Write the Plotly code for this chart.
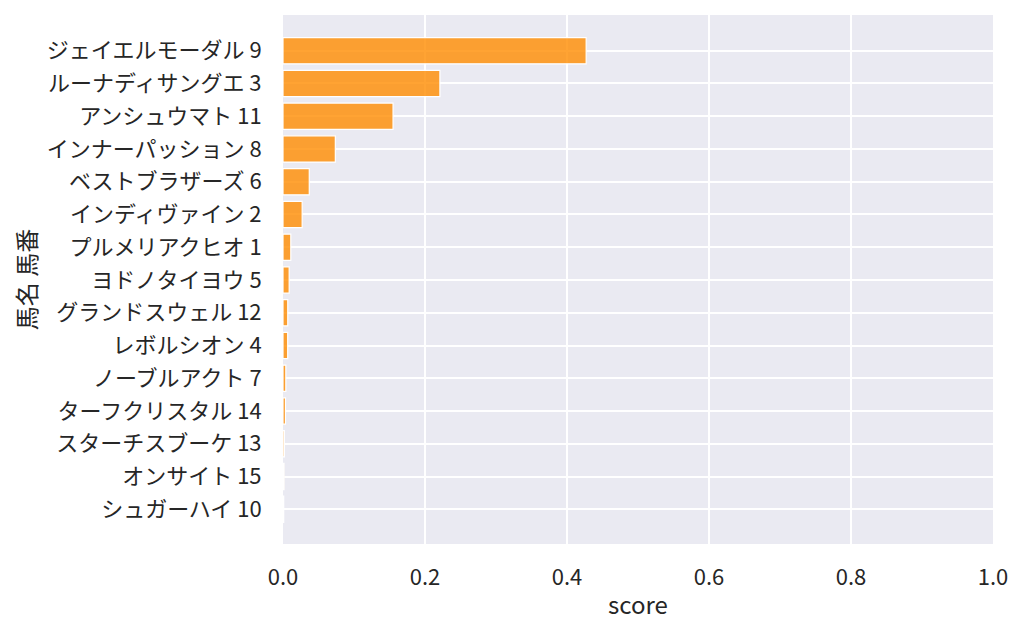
import plotly.graph_objects as go

# horse name + number, ordered by score (top to bottom)
horses = [
    "ジェイエルモーダル 9",
    "ルーナディサングエ 3",
    "アンシュウマト 11",
    "インナーパッション 8",
    "ベストブラザーズ 6",
    "インディヴァイン 2",
    "プルメリアクヒオ 1",
    "ヨドノタイヨウ 5",
    "グランドスウェル 12",
    "レボルシオン 4",
    "ノーブルアクト 7",
    "ターフクリスタル 14",
    "スターチスブーケ 13",
    "オンサイト 15",
    "シュガーハイ 10",
]
scores = [0.427, 0.221, 0.155, 0.0737, 0.037, 0.027, 0.011, 0.0087,
          0.0067, 0.0066, 0.004, 0.0035, 0.002, 0.0015, 0.001]

x_ticks = [0.0, 0.2, 0.4, 0.6, 0.8, 1.0]

FONT = "Noto Sans CJK JP"

fig = go.Figure()
fig.add_trace(go.Bar(
    x=scores,
    y=horses,
    orientation="h",
    width=0.8,
    marker=dict(color="rgba(255,140,0,0.8)", line=dict(color="white", width=1.2)),
))

# page body adds 8px offset, margins compensate for it
fig.update_layout(
    width=1024,
    height=634,
    margin=dict(l=275, r=39, t=7, b=98),
    paper_bgcolor="white",
    plot_bgcolor="#EAEAF2",
    font=dict(family=FONT, size=22, color="#262626"),
    showlegend=False,
)
fig.update_xaxes(
    range=[0, 1.0],
    tickvals=x_ticks,
    ticktext=[f"{v:.1f}" for v in x_ticks],
    showgrid=True,
    gridcolor="white",
    gridwidth=1.5,
    zeroline=False,
    showline=False,
    ticks="outside",
    ticklen=14,
    tickcolor="rgba(0,0,0,0)",
    title=dict(text="score", standoff=6, font=dict(size=24)),
)
fig.update_yaxes(
    type="category",
    categoryorder="array",
    categoryarray=horses,
    range=[len(horses) - 1 + 1.06, -1.09],
    showgrid=True,
    gridcolor="white",
    gridwidth=1.5,
    zeroline=False,
    showline=False,
    ticks="outside",
    ticklen=16,
    tickcolor="rgba(0,0,0,0)",
    title=dict(text="馬名 馬番", standoff=8, font=dict(size=24)),
)

fig.write_html("out.html")
